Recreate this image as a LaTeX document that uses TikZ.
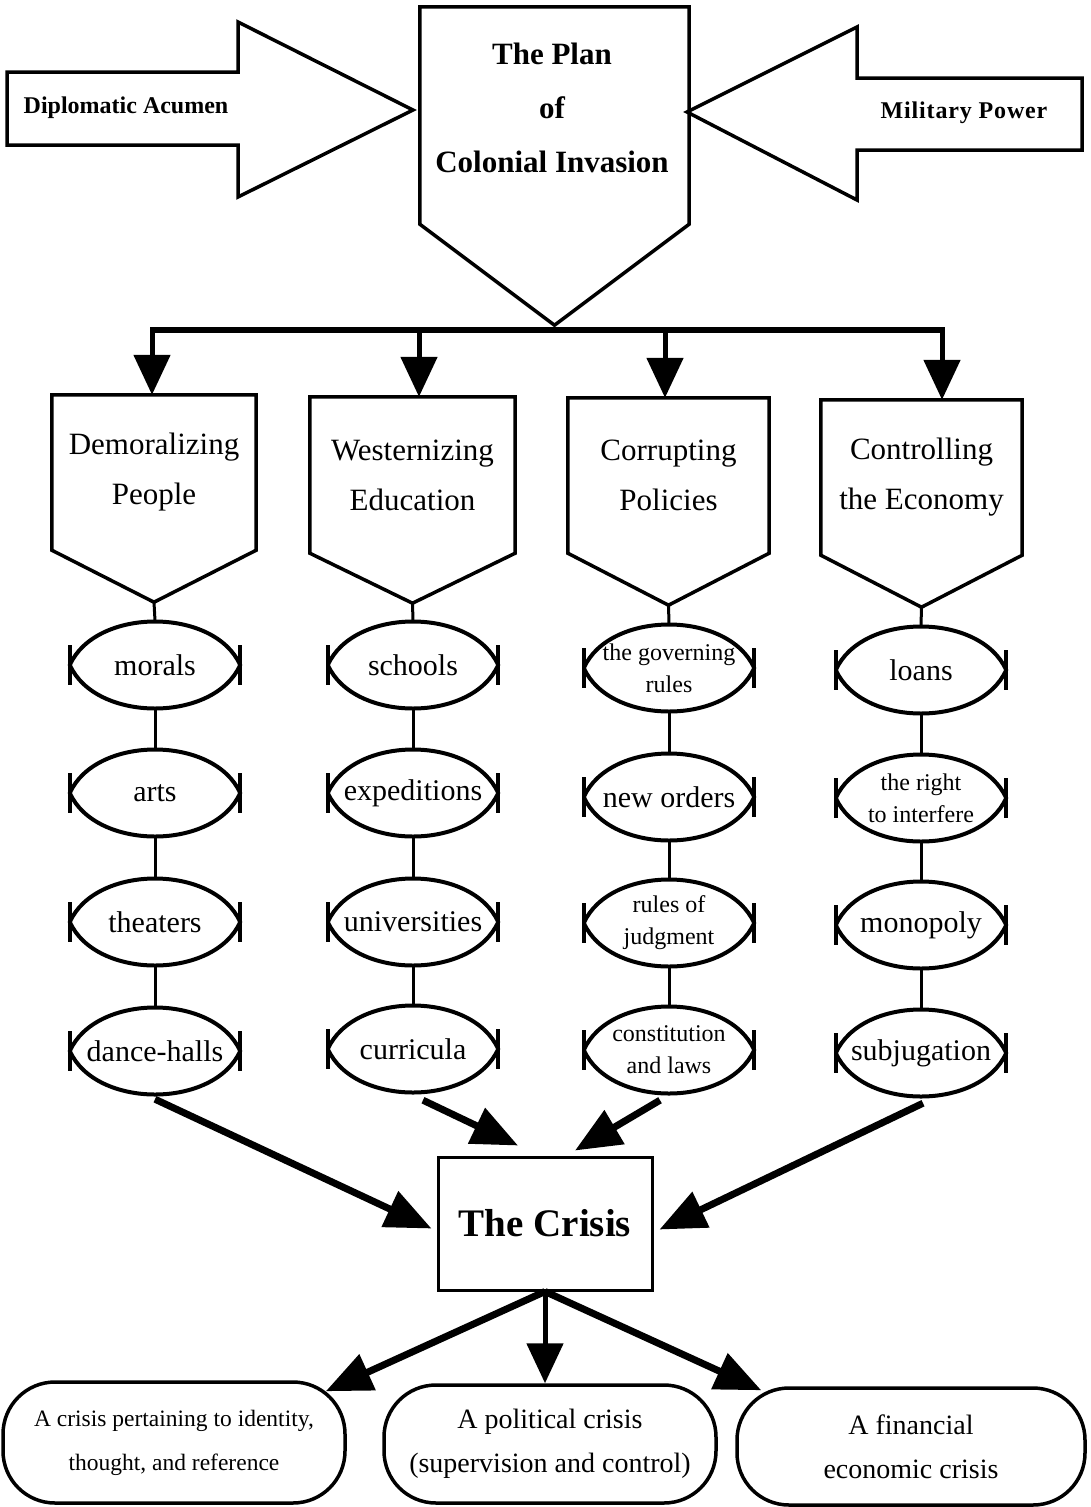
\documentclass[tikz,border=0pt]{standalone}
\usepackage{fontspec}
\setmainfont{Liberation Serif}
\usetikzlibrary{arrows.meta,calc}
\newcommand\fsz[2]{\fontsize{#1}{#2}\selectfont}
\newcommand\pentnode[8]{%
  \node[pent,#2,minimum width=#5pt,minimum height=#6pt] (#1) at (#3,#4) {#8};
  \coordinate (#1tip) at ($(#1.south)+(0,-#7)$);
  \draw[shapeline] (#1.south west) -- (#1.north west) -- (#1.north east) -- (#1.south east) -- (#1tip) -- cycle;
}
\newcommand\lensat[5]{%
  \node[lens,#2] (#1) at (#3,#4) {#5};
  \draw[lensline] (#1.west) .. controls ($(#1.west)+(26,58)$) and ($(#1.east)+(-26,58)$) .. (#1.east)
     .. controls ($(#1.east)+(-26,-58)$) and ($(#1.west)+(26,-58)$) .. (#1.west) -- cycle;
  \draw[barline] ([yshift=20pt]#1.west) -- ([yshift=-20pt]#1.west);
  \draw[barline] ([yshift=20pt]#1.east) -- ([yshift=-20pt]#1.east);
}
\begin{document}
\begin{tikzpicture}[x=1pt,y=1pt,
  shapeline/.style={line width=3.5pt,line join=miter},
  sidetxt/.style={inner sep=0pt,font=\bfseries\fsz{24}{28}},
  plantxt/.style={inner sep=0pt,align=center,font=\bfseries\fsz{31}{54}},
  pent/.style={inner sep=0pt,align=center,font=\fsz{31}{50}},
  lens/.style={inner sep=0pt,minimum width=170pt,minimum height=88pt,align=center,font=\fsz{30}{34}},
  lenstwo/.style={font=\fsz{24}{32}},
  lensline/.style={line width=4pt,line join=round},
  barline/.style={line width=4.5pt},
  conn/.style={line width=3pt},
  busline/.style={line width=6pt},
  busarrow/.style={line width=5pt,-{Triangle[length=40pt,width=36pt]}},
  fatarrow/.style={line width=7pt,-{Triangle[length=46pt,width=38pt]}},
  crisisbox/.style={draw,line width=3pt,inner sep=0pt,minimum width=214pt,minimum height=133pt,font=\bfseries\fsz{39}{45}},
  endbox/.style={draw,line width=3.5pt,rounded corners=52pt,inner sep=0pt,align=center,font=\fsz{28}{44}}
]
\fill[white] (0,0) rectangle (1091,-1507);
\useasboundingbox (0,0) rectangle (1091,-1507);

% side arrows
\draw[shapeline] (7,-72) -- (238,-72) -- (238,-22) -- (413,-110) -- (238,-197) -- (238,-145) -- (7,-145) -- cycle;
\node[sidetxt] (dip) at (126,-108) {Diplomatic Acumen};
\draw[shapeline] (1082,-78) -- (857,-78) -- (857,-27) -- (687,-112) -- (857,-200) -- (857,-150) -- (1082,-150) -- cycle;
\node[sidetxt] (mil) at (964,-113) {\addfontfeature{LetterSpace=3.5}Military Power};

% plan
\pentnode{plan}{}{554.5}{-115.5}{269}{217}{101}{}
\node[plantxt] (plantext) at (552,-108) {The Plan\\of\\Colonial Invasion};

% bus
\coordinate (busL) at (150,-330);
\coordinate (busR) at (945,-330);
\draw[busline] (busL) -- (busR);
\coordinate (b1) at (152,-330);
\coordinate (b2) at (419,-330);
\coordinate (b3) at (665,-330);
\coordinate (b4) at (942,-330);

% category boxes
\pentnode{d1}{}{154}{-472.5}{204}{155}{52}{Demoralizing\\People}
\pentnode{d2}{}{412.5}{-475}{205}{156}{50}{Westernizing\\Education}
\pentnode{d3}{}{668.5}{-475.5}{201}{155}{52}{Corrupting\\Policies}
\pentnode{d4}{}{921.5}{-477.5}{201}{155}{52}{Controlling\\the Economy}

\draw[busarrow] (b1) -- (b1 |- d1.north);
\draw[busarrow] (b2) -- (b2 |- d2.north);
\draw[busarrow] (b3) -- (b3 |- d3.north);
\draw[busarrow] (b4) -- (b4 |- d4.north);

% lenses
\lensat{l11}{}{155}{-665}{morals}
\lensat{l12}{}{155}{-793}{arts}
\lensat{l13}{}{155}{-922}{theaters}
\lensat{l14}{}{155}{-1051}{dance-halls}
\lensat{l21}{}{413}{-665}{schools}
\lensat{l22}{}{413}{-793}{expeditions}
\lensat{l23}{}{413}{-922}{universities}
\lensat{l24}{}{413}{-1049}{curricula}
\lensat{l31}{lenstwo}{669}{-668}{the governing\\rules}
\lensat{l32}{}{669}{-797}{new orders}
\lensat{l33}{lenstwo}{669}{-923}{rules of\\judgment}
\lensat{l34}{lenstwo}{669}{-1050}{constitution\\and laws}
\lensat{l41}{}{921}{-670}{loans}
\lensat{l42}{lenstwo}{921}{-798}{the right\\to interfere}
\lensat{l43}{}{921}{-925}{monopoly}
\lensat{l44}{}{921}{-1053}{subjugation}

\draw[conn] (d1tip) -- (l11.north);
\draw[conn] (l11.south) -- (l12.north);
\draw[conn] (l12.south) -- (l13.north);
\draw[conn] (l13.south) -- (l14.north);
\draw[conn] (d2tip) -- (l21.north);
\draw[conn] (l21.south) -- (l22.north);
\draw[conn] (l22.south) -- (l23.north);
\draw[conn] (l23.south) -- (l24.north);
\draw[conn] (d3tip) -- (l31.north);
\draw[conn] (l31.south) -- (l32.north);
\draw[conn] (l32.south) -- (l33.north);
\draw[conn] (l33.south) -- (l34.north);
\draw[conn] (d4tip) -- (l41.north);
\draw[conn] (l41.south) -- (l42.north);
\draw[conn] (l42.south) -- (l43.north);
\draw[conn] (l43.south) -- (l44.north);

% crisis
\node[crisisbox] (crisis) at (545,-1223.5) {The Crisis};
\draw[fatarrow] ([yshift=-4pt]l14.south) -- ([shift={(-5,-5)}]crisis.west);
\draw[fatarrow] ([shift={(10,-7)}]l24.south) -- ([shift={(-27,10)}]crisis.north);
\draw[fatarrow] ([shift={(-9,-6)}]l34.south) -- ([shift={(30,5)}]crisis.north);
\draw[fatarrow] ([shift={(2,-6)}]l44.south) -- ([shift={(6,-6)}]crisis.east);

% outcomes
\node[endbox,minimum width=342pt,minimum height=121pt,font=\fsz{23.5}{44}] (bx1) at (174,-1442.5) {A crisis pertaining to identity,\\thought, and reference};
\node[endbox,minimum width=332pt,minimum height=118pt] (bx2) at (550,-1444) {A political crisis\\(supervision and control)};
\node[endbox,minimum width=348pt,minimum height=117pt] (bx3) at (911,-1446.5) {A financial\\economic crisis};

\draw[fatarrow] (crisis.south) -- ([shift={(-21,-11)}]bx1.north east);
\draw[busarrow] (crisis.south) -- (crisis.south |- bx2.north);
\draw[fatarrow] (crisis.south) -- ([shift={(26,-4)}]bx3.north west);
\end{tikzpicture}
\end{document}
